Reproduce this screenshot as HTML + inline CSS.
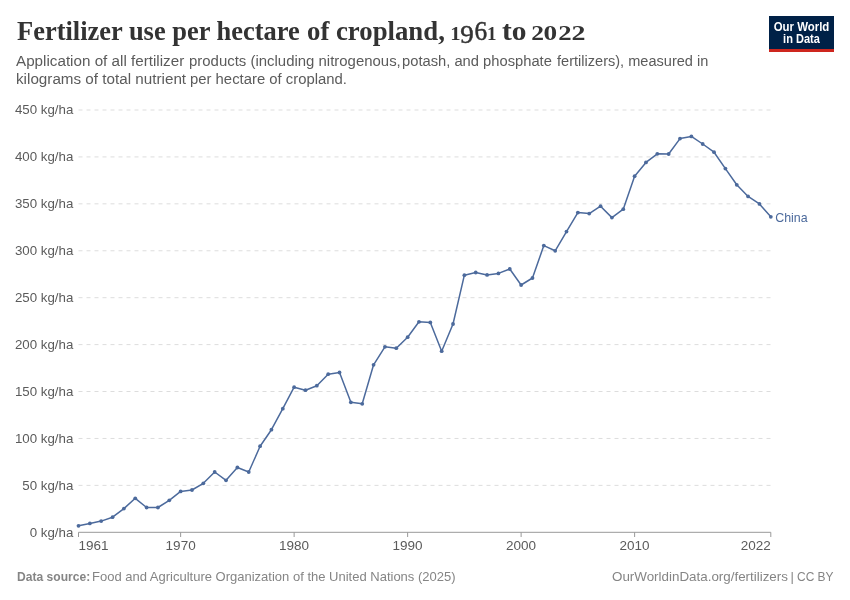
<!DOCTYPE html>
<html><head><meta charset="utf-8">
<style>
html,body{margin:0;padding:0;background:#fff;width:850px;height:600px;overflow:hidden}
body{position:relative;font-family:"Liberation Sans",sans-serif}
.t,#logo,svg{will-change:transform}
.t{position:absolute;white-space:nowrap}
.sl{position:absolute;left:0;height:18.4px;width:850px;font-size:14.9px;color:#5b5b5b;line-height:18.4px;will-change:transform}
.sl .w{position:absolute;top:0;white-space:nowrap;transform-origin:0 0}
#logo{position:absolute;left:769px;top:16px;width:65px;height:36px;background:#002147}
#logo .bar{position:absolute;left:0;bottom:0;width:65px;height:3px;background:#ce261e}
#logo .lt{position:absolute;left:0;width:65px;text-align:center;color:#fff;font-weight:bold;font-size:12px;line-height:12px;white-space:nowrap;transform-origin:32.5px 0}
.fl{position:absolute;left:0;top:569px;width:850px;height:16px;font-size:13px;color:#858585;will-change:transform}
.tl{position:absolute;left:0;top:16.57px;width:850px;height:30px;font-family:"Liberation Serif",serif;font-weight:bold;font-size:26.3px;color:#333;will-change:transform}
.tl .w{position:absolute;top:0;white-space:nowrap;transform-origin:0 0}
.fl .w{position:absolute;top:0;white-space:nowrap;transform-origin:0 0}
svg{position:absolute;left:0;top:0}
</style></head><body>
<div class="tl"><span class="w" style="left:16.991px;transform:scaleX(1.00621)">Fertilizer use per hectare</span><span class="w" style="left:307.167px;transform:scaleX(1.01791)">of cropland,</span><span class="w" style="left:502.123px;transform:scaleX(1.12031)">to</span></div>
<div class="sl" style="top:51.5px"><span class="w" style="left:16.195px;transform:scaleX(1.02144)">Application of all fertilizer</span><span class="w" style="left:188.646px;transform:scaleX(1.00320)">products (including nitrogenous,</span><span class="w" style="left:402.147px;transform:scaleX(0.98916)">potash, and phosphate</span><span class="w" style="left:557.105px;transform:scaleX(0.97800)">fertilizers), measured in</span></div><div class="sl" style="top:69.9px"><span class="w" style="left:16.125px;transform:scaleX(1.02238)">kilograms of total nutrient</span><span class="w" style="left:190.274px;transform:scaleX(0.99806)">per hectare of cropland.</span></div>
<div id="logo"><div class="lt" style="top:4.7px;transform:scaleX(0.951)">Our World</div><div class="lt" style="top:17px;transform:scaleX(0.919)">in Data</div><div class="bar"></div></div>
<svg width="850" height="600" viewBox="0 0 850 600">
<g font-family="Liberation Serif" font-weight="bold" fill="#333" font-size="26.3">
<text transform="translate(450.35,39.70) scale(1.092,1)" font-size="18.94">1</text><text transform="translate(460.18,43.21) scale(1.110,1)" font-size="24.24" font-weight="normal" stroke="#333" stroke-width="0.50">9</text><text transform="translate(474.38,40.08) scale(0.939,1)" font-size="26.91" font-weight="normal" stroke="#333" stroke-width="0.50">6</text><text transform="translate(486.88,39.70) scale(1.006,1)" font-size="18.94">1</text><text transform="translate(531.21,40.20) scale(1.235,1)" font-size="20.68">2</text><text transform="translate(543.48,40.00) scale(1.345,1)" font-size="20.30">0</text><text transform="translate(558.16,40.20) scale(1.293,1)" font-size="20.68">2</text><text transform="translate(571.41,40.20) scale(1.352,1)" font-size="20.68">2</text></g>
<g stroke="#dddddd" stroke-width="1" stroke-dasharray="4,4"><line x1="78.5" x2="770.8" y1="485.38" y2="485.38"/><line x1="78.5" x2="770.8" y1="438.46" y2="438.46"/><line x1="78.5" x2="770.8" y1="391.53" y2="391.53"/><line x1="78.5" x2="770.8" y1="344.61" y2="344.61"/><line x1="78.5" x2="770.8" y1="297.69" y2="297.69"/><line x1="78.5" x2="770.8" y1="250.77" y2="250.77"/><line x1="78.5" x2="770.8" y1="203.84" y2="203.84"/><line x1="78.5" x2="770.8" y1="156.92" y2="156.92"/><line x1="78.5" x2="770.8" y1="110.00" y2="110.00"/></g>
<g font-family="Liberation Sans" font-size="13.3" fill="#5b5b5b" text-anchor="end"><text x="73.3" y="536.70">0 kg/ha</text><text x="73.3" y="489.78">50 kg/ha</text><text x="73.3" y="442.86">100 kg/ha</text><text x="73.3" y="395.93">150 kg/ha</text><text x="73.3" y="349.01">200 kg/ha</text><text x="73.3" y="302.09">250 kg/ha</text><text x="73.3" y="255.17">300 kg/ha</text><text x="73.3" y="208.24">350 kg/ha</text><text x="73.3" y="161.32">400 kg/ha</text><text x="73.3" y="114.40">450 kg/ha</text></g>
<line x1="78.5" x2="770.8" y1="532.3" y2="532.3" stroke="#999" stroke-width="1"/>
<g stroke="#999" stroke-width="1"><line x1="78.50" x2="78.50" y1="532.3" y2="537"/><line x1="180.64" x2="180.64" y1="532.3" y2="537"/><line x1="294.13" x2="294.13" y1="532.3" y2="537"/><line x1="407.63" x2="407.63" y1="532.3" y2="537"/><line x1="521.12" x2="521.12" y1="532.3" y2="537"/><line x1="634.61" x2="634.61" y1="532.3" y2="537"/><line x1="770.80" x2="770.80" y1="532.3" y2="537"/></g>
<g font-family="Liberation Sans" font-size="13.5" fill="#5b5b5b"><text x="78.50" y="550.4" text-anchor="start">1961</text><text x="180.64" y="550.4" text-anchor="middle">1970</text><text x="294.13" y="550.4" text-anchor="middle">1980</text><text x="407.63" y="550.4" text-anchor="middle">1990</text><text x="521.12" y="550.4" text-anchor="middle">2000</text><text x="634.61" y="550.4" text-anchor="middle">2010</text><text x="770.80" y="550.4" text-anchor="end">2022</text></g>
<path d="M78.50,525.80 L89.85,523.40 L101.20,521.10 L112.55,517.20 L123.90,508.60 L135.25,498.30 L146.60,507.50 L157.94,507.50 L169.29,500.30 L180.64,491.40 L191.99,490.00 L203.34,483.30 L214.69,472.00 L226.04,480.30 L237.39,467.50 L248.74,472.00 L260.09,446.20 L271.44,429.70 L282.79,408.70 L294.13,387.20 L305.48,390.20 L316.83,385.70 L328.18,374.20 L339.53,372.50 L350.88,402.30 L362.23,403.80 L373.58,364.80 L384.93,346.80 L396.28,348.20 L407.63,337.20 L418.98,321.80 L430.32,322.40 L441.67,351.20 L453.02,324.00 L464.37,275.20 L475.72,272.50 L487.07,274.90 L498.42,273.40 L509.77,269.00 L521.12,285.00 L532.47,278.00 L543.82,245.60 L555.17,250.80 L566.51,231.60 L577.86,212.60 L589.21,213.60 L600.56,206.20 L611.91,217.60 L623.26,209.20 L634.61,176.20 L645.96,162.40 L657.31,153.80 L668.66,154.00 L680.01,138.60 L691.36,136.40 L702.70,144.00 L714.05,152.20 L725.40,168.60 L736.75,184.80 L748.10,196.40 L759.45,203.90 L770.80,216.80" fill="none" stroke="#4c6a9c" stroke-width="1.5" stroke-linejoin="round"/>
<g fill="#4c6a9c"><circle cx="78.50" cy="525.80" r="1.9"/><circle cx="89.85" cy="523.40" r="1.9"/><circle cx="101.20" cy="521.10" r="1.9"/><circle cx="112.55" cy="517.20" r="1.9"/><circle cx="123.90" cy="508.60" r="1.9"/><circle cx="135.25" cy="498.30" r="1.9"/><circle cx="146.60" cy="507.50" r="1.9"/><circle cx="157.94" cy="507.50" r="1.9"/><circle cx="169.29" cy="500.30" r="1.9"/><circle cx="180.64" cy="491.40" r="1.9"/><circle cx="191.99" cy="490.00" r="1.9"/><circle cx="203.34" cy="483.30" r="1.9"/><circle cx="214.69" cy="472.00" r="1.9"/><circle cx="226.04" cy="480.30" r="1.9"/><circle cx="237.39" cy="467.50" r="1.9"/><circle cx="248.74" cy="472.00" r="1.9"/><circle cx="260.09" cy="446.20" r="1.9"/><circle cx="271.44" cy="429.70" r="1.9"/><circle cx="282.79" cy="408.70" r="1.9"/><circle cx="294.13" cy="387.20" r="1.9"/><circle cx="305.48" cy="390.20" r="1.9"/><circle cx="316.83" cy="385.70" r="1.9"/><circle cx="328.18" cy="374.20" r="1.9"/><circle cx="339.53" cy="372.50" r="1.9"/><circle cx="350.88" cy="402.30" r="1.9"/><circle cx="362.23" cy="403.80" r="1.9"/><circle cx="373.58" cy="364.80" r="1.9"/><circle cx="384.93" cy="346.80" r="1.9"/><circle cx="396.28" cy="348.20" r="1.9"/><circle cx="407.63" cy="337.20" r="1.9"/><circle cx="418.98" cy="321.80" r="1.9"/><circle cx="430.32" cy="322.40" r="1.9"/><circle cx="441.67" cy="351.20" r="1.9"/><circle cx="453.02" cy="324.00" r="1.9"/><circle cx="464.37" cy="275.20" r="1.9"/><circle cx="475.72" cy="272.50" r="1.9"/><circle cx="487.07" cy="274.90" r="1.9"/><circle cx="498.42" cy="273.40" r="1.9"/><circle cx="509.77" cy="269.00" r="1.9"/><circle cx="521.12" cy="285.00" r="1.9"/><circle cx="532.47" cy="278.00" r="1.9"/><circle cx="543.82" cy="245.60" r="1.9"/><circle cx="555.17" cy="250.80" r="1.9"/><circle cx="566.51" cy="231.60" r="1.9"/><circle cx="577.86" cy="212.60" r="1.9"/><circle cx="589.21" cy="213.60" r="1.9"/><circle cx="600.56" cy="206.20" r="1.9"/><circle cx="611.91" cy="217.60" r="1.9"/><circle cx="623.26" cy="209.20" r="1.9"/><circle cx="634.61" cy="176.20" r="1.9"/><circle cx="645.96" cy="162.40" r="1.9"/><circle cx="657.31" cy="153.80" r="1.9"/><circle cx="668.66" cy="154.00" r="1.9"/><circle cx="680.01" cy="138.60" r="1.9"/><circle cx="691.36" cy="136.40" r="1.9"/><circle cx="702.70" cy="144.00" r="1.9"/><circle cx="714.05" cy="152.20" r="1.9"/><circle cx="725.40" cy="168.60" r="1.9"/><circle cx="736.75" cy="184.80" r="1.9"/><circle cx="748.10" cy="196.40" r="1.9"/><circle cx="759.45" cy="203.90" r="1.9"/><circle cx="770.80" cy="216.80" r="1.9"/></g>
<text x="775.2" y="221.6" font-family="Liberation Sans" font-size="12.4" fill="#4c6a9c">China</text>
</svg>
<div class="fl"><span class="w" style="font-weight:bold;left:16.675px;transform:scaleX(0.92906)">Data source:</span><span class="w" style="left:92.284px;transform:scaleX(1.00017)">Food and Agriculture Organization of the United Nations (2025)</span><span class="w" style="left:611.786px;transform:scaleX(1.02902)">OurWorldinData.org/fertilizers</span><span class="w" style="left:790.500px;transform:scaleX(1.00000)">|</span><span class="w" style="left:797.171px;transform:scaleX(0.91978)">CC BY</span></div>
</body></html>
